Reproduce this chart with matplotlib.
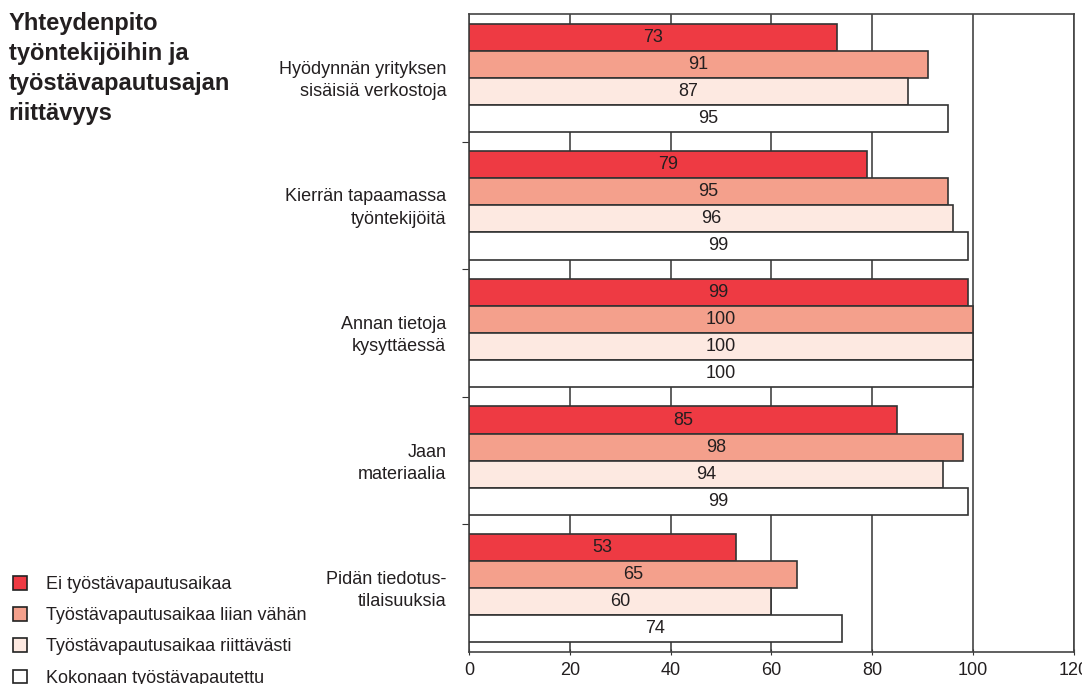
import matplotlib.pyplot as plt
from matplotlib.patches import Patch

plt.rcParams['font.family'] = ['Liberation Sans', 'DejaVu Sans']

# Data
categories = ['Hyödynnän yrityksen\nsisäisiä verkostoja',
              'Kierrän tapaamassa\ntyöntekijöitä',
              'Annan tietoja\nkysyttäessä',
              'Jaan\nmateriaalia',
              'Pidän tiedotus-\ntilaisuuksia']
series_names = ['Ei työstävapautusaikaa',
                'Työstävapautusaikaa liian vähän',
                'Työstävapautusaikaa riittävästi',
                'Kokonaan työstävapautettu']
values = [
    [73, 79, 99, 85, 53],
    [91, 95, 100, 98, 65],
    [87, 96, 100, 94, 60],
    [95, 99, 100, 99, 74],
]
colors = ['#ee3a43', '#f4a08c', '#fde9e1', '#ffffff']
title = 'Yhteydenpito\ntyöntekijöihin ja\ntyöstävapautusajan\nriittävyys'

fig = plt.figure(figsize=(10.82, 6.84), dpi=100)
ax = fig.add_axes([0.4335, 0.0468, 0.559, 0.9327])

edge = '#333333'
bar_h = 0.212
pad = (1 - 4 * bar_h) / 2
for k, (vals, col) in enumerate(zip(values, colors)):
    for i, v in enumerate(vals):
        y = i + pad + k * bar_h + bar_h / 2
        ax.barh(y, v, height=bar_h, color=col, edgecolor=edge, linewidth=1.2, zorder=3)
        ax.text(v / 2, y, str(v), ha='center', va='center', fontsize=13,
                color='#231f20', zorder=4)

ax.set_xlim(0, 120)
ax.set_ylim(5, 0)
ax.set_xticks(range(0, 121, 20))
ax.tick_params(axis='x', labelsize=13, length=4, direction='inout', pad=5,
               color=edge, labelcolor='#231f20')
ax.set_yticks([1, 2, 3, 4])
ax.set_yticklabels([])
ax.tick_params(axis='y', length=5, direction='out', color=edge)
ax.xaxis.grid(True, color='#444444', linewidth=1.2, zorder=0)
for s in ax.spines.values():
    s.set_color('#444444')
    s.set_linewidth(1.2)

# category labels, slightly below group centre
for i, c in enumerate(categories):
    ax.text(-4.5, i + 0.52, c, ha='right', va='center', fontsize=13,
            color='#231f20', linespacing=1.4)

fig.text(0.008, 0.982, title, ha='left', va='top', fontsize=17,
         fontweight='bold', color='#231f20', linespacing=1.38)

handles = [Patch(facecolor=c, edgecolor='#222222', linewidth=1.2) for c in colors]
fig.legend(handles, series_names, loc='upper left', bbox_to_anchor=(-0.003, 0.182),
           frameon=False, fontsize=13, handlelength=0.8, handleheight=0.8,
           handletextpad=1.0, labelspacing=0.78, labelcolor='#231f20')

fig.savefig('out.png', dpi=100)
